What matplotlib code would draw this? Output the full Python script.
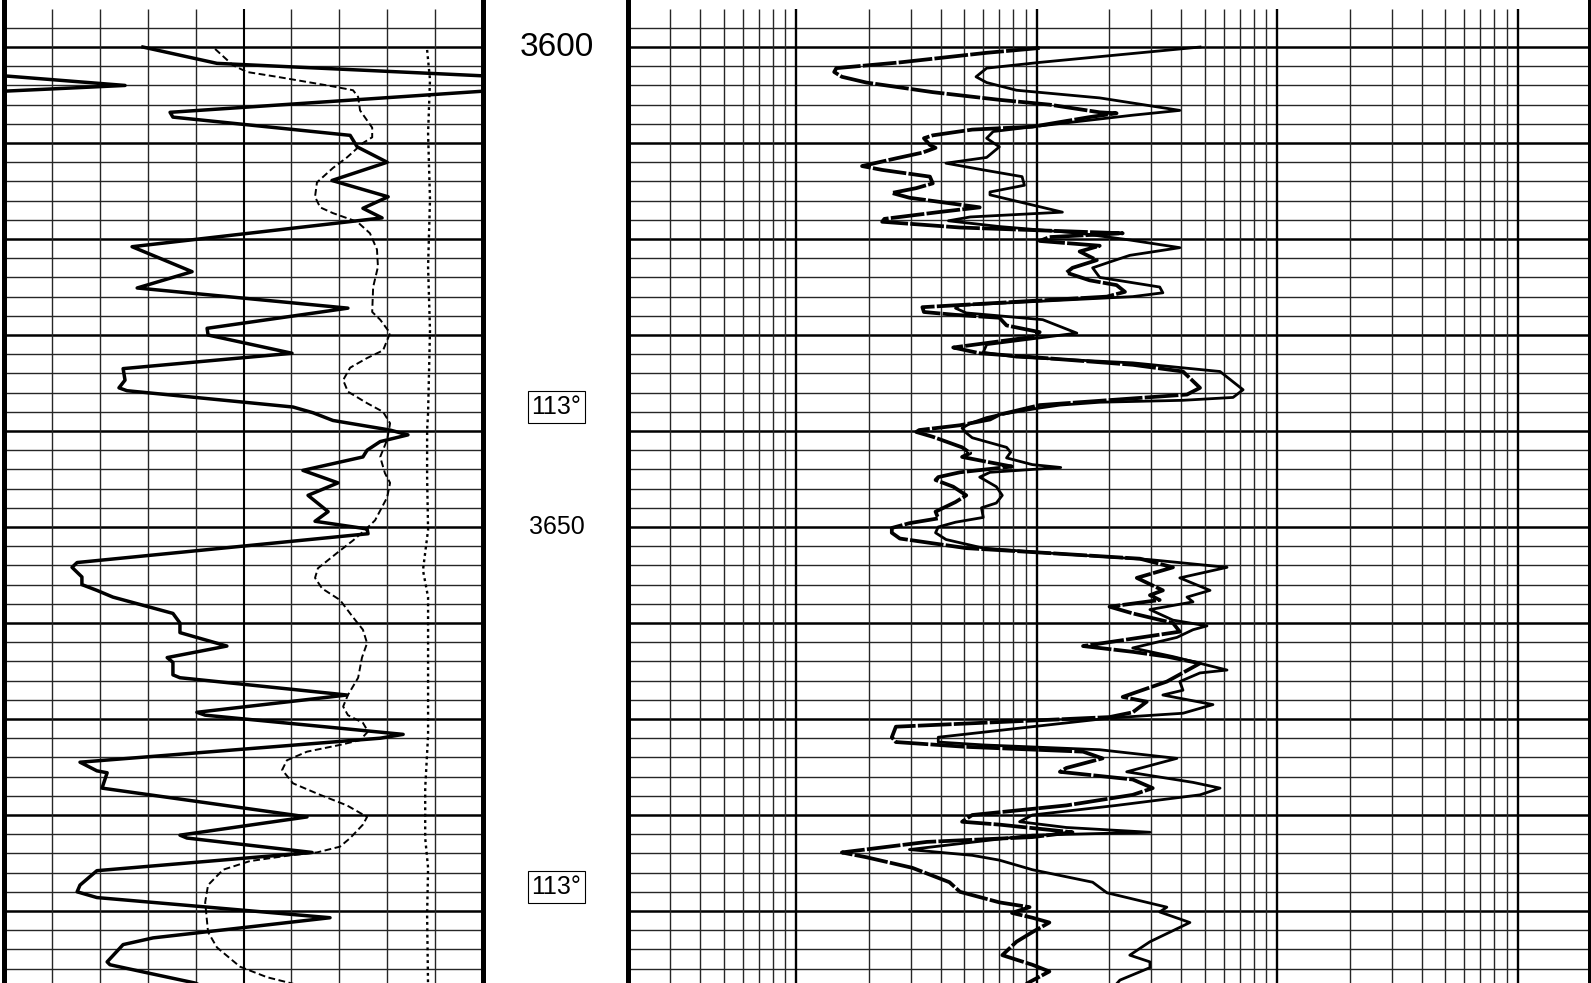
import numpy as np
import matplotlib
matplotlib.use("Agg")
import matplotlib.pyplot as plt

plt.rcParams['font.family'] = ['Liberation Sans', 'DejaVu Sans']

# left track, scale 0-150 (values above 150 wrap back in from the left)
gr_depth = [3600.0, 3601.7, 3603.0, 3604.0, 3604.6, 3606.8, 3607.3, 3609.2, 3610.4, 3612.0,
            3613.9, 3615.6, 3616.8, 3617.8, 3620.8, 3623.4, 3625.1, 3627.2, 3629.3, 3630.0,
            3631.9, 3633.5, 3634.7, 3635.5, 3635.8, 3637.5, 3638.1, 3638.9, 3639.9, 3640.4,
            3641.1, 3642.0, 3642.7, 3644.1, 3645.4, 3646.7, 3648.4, 3649.4, 3650.2, 3650.7,
            3653.7, 3654.2, 3655.2, 3656.0, 3656.6, 3657.3, 3659.0, 3660.0, 3661.0, 3662.4,
            3663.6, 3664.1, 3665.4, 3665.7, 3667.5, 3669.3, 3669.6, 3671.6, 3672.0, 3674.5,
            3675.4, 3675.6, 3677.2, 3680.2, 3682.1, 3682.4, 3683.9, 3685.8, 3687.3, 3688.0,
            3688.6, 3690.7, 3692.8, 3693.5, 3695.3, 3695.6, 3696.5, 3697.5, 3698.0]
gr = [43.5, 66.7, 150.0, 187.9, 150.0, 52.0, 52.9, 108.4, 110.6, 120.0,
      102.7, 120.3, 112.4, 118.4, 40.1, 58.9, 41.7, 107.7, 63.6, 63.9,
      90.2, 37.3, 37.9, 36.0, 38.5, 90.5, 96.8, 103.0, 120.9, 126.5,
      117.8, 113.7, 112.4, 93.6, 104.6, 95.2, 101.5, 97.4, 113.7, 114.0,
      22.9, 21.3, 24.4, 24.4, 29.1, 34.1, 52.9, 55.1, 55.1, 69.8,
      51.1, 52.9, 52.9, 55.1, 107.4, 60.4, 63.0, 125.0, 117.8, 23.8,
      29.1, 32.3, 30.7, 94.9, 55.1, 57.3, 96.5, 29.1, 23.8, 22.9,
      29.1, 102.1, 46.7, 37.3, 32.3, 33.2, 45.7, 59.8, 63.0]

cal_depth = [3600.2, 3601.9, 3602.6, 3603.1, 3604.1, 3604.5, 3605.2, 3606.6, 3608.4, 3609.4,
             3610.0, 3611.5, 3612.6, 3614.1, 3615.6, 3616.7, 3617.3, 3618.2, 3619.4, 3621.1,
             3622.9, 3625.0, 3627.6, 3628.4, 3629.8, 3631.6, 3632.4, 3633.4, 3634.7, 3635.9,
             3637.1, 3638.0, 3639.2, 3640.9, 3642.7, 3644.4, 3645.4, 3646.9, 3649.3, 3650.3,
             3651.4, 3652.7, 3654.3, 3655.3, 3656.4, 3657.6, 3659.4, 3660.7, 3662.1, 3663.6,
             3665.7, 3667.5, 3668.7, 3669.6, 3670.4, 3671.3, 3672.2, 3672.7, 3673.4, 3674.3,
             3675.3, 3676.7, 3677.9, 3679.0, 3680.2, 3681.0, 3682.4, 3683.3, 3683.9, 3684.2,
             3684.8, 3685.7, 3687.3, 3689.1, 3692.2, 3693.8, 3695.8, 3696.9, 3697.5, 3698.0]
cal = [66.1, 71.7, 76.1, 85.5, 103.0, 109.3, 110.9, 111.5, 115.3, 115.3,
       112.4, 107.4, 103.0, 98.0, 97.4, 99.0, 103.0, 110.6, 114.6, 116.8,
       117.1, 115.6, 115.3, 117.8, 120.9, 118.7, 113.7, 108.4, 106.2, 107.7,
       113.7, 118.7, 120.9, 120.0, 117.8, 119.3, 120.9, 120.0, 116.2, 113.1,
       109.3, 104.3, 98.3, 97.4, 99.6, 105.2, 109.3, 112.4, 113.7, 112.1,
       110.9, 107.7, 106.2, 107.7, 112.4, 114.0, 111.5, 105.2, 94.9, 88.6,
       87.1, 90.5, 99.0, 107.4, 113.7, 112.4, 108.4, 105.2, 98.0, 89.6,
       77.0, 68.6, 63.9, 63.0, 63.9, 66.7, 73.9, 82.4, 89.6, 95.0]

bit_depth = [3600.3, 3603.4, 3609.0, 3615.9, 3622.9, 3629.5, 3638.1, 3639.9, 3644.8, 3650.3,
             3654.5, 3657.3, 3663.6, 3671.7, 3677.2, 3682.4, 3685.5, 3690.4, 3698.0]
bit = [132.5, 133.4, 132.8, 133.4, 132.8, 133.4, 132.8, 132.5, 132.5, 132.8,
       131.2, 132.8, 132.8, 132.8, 131.9, 131.9, 132.8, 132.5, 132.8]

# right track, log scale 0.2-2000
res_a_depth = [3600.1, 3600.6, 3601.6, 3602.2, 3602.6, 3603.1, 3603.7, 3604.7, 3605.5, 3606.0,
               3606.8, 3606.9, 3607.3, 3608.3, 3608.6, 3609.2, 3609.5, 3610.2, 3610.5, 3611.0,
               3611.6, 3612.4, 3612.8, 3613.5, 3614.2, 3614.7, 3615.2, 3615.7, 3616.7, 3617.2,
               3617.9, 3618.2, 3618.8, 3619.4, 3619.8, 3620.2, 3620.7, 3621.3, 3622.2, 3623.0,
               3623.5, 3624.3, 3624.8, 3625.5, 3626.0, 3627.1, 3627.6, 3627.9, 3628.2, 3629.0,
               3629.7, 3630.2, 3631.3, 3631.9, 3632.3, 3633.1, 3633.8, 3635.5, 3636.2, 3637.3,
               3637.8, 3638.3, 3638.8, 3639.4, 3639.9, 3640.1, 3640.6, 3641.7, 3642.3, 3642.7,
               3643.2, 3643.7, 3644.3, 3644.8, 3645.1, 3645.8, 3646.7, 3647.4, 3648.4, 3649.1,
               3649.6, 3650.1, 3650.6, 3651.2, 3652.2, 3652.7, 3653.3, 3654.2, 3655.3, 3656.6,
               3657.1, 3657.6, 3658.3, 3659.0, 3660.0, 3660.9, 3662.4, 3663.0, 3663.5, 3664.2,
               3666.1, 3667.7, 3668.2, 3669.3, 3669.8, 3670.8, 3671.9, 3672.4, 3672.9, 3673.4,
               3674.1, 3675.1, 3675.5, 3676.3, 3677.2, 3677.9, 3679.0, 3680.0, 3680.7, 3681.0,
               3681.8, 3682.3, 3682.8, 3683.9, 3684.4, 3685.5, 3687.0, 3688.0, 3689.1, 3689.6,
               3690.2, 3690.7, 3691.2, 3692.2, 3693.2, 3694.6, 3695.6, 3696.3, 3697.4, 3698.0]
res_a = [10.3, 6.2, 2.7, 1.47, 1.44, 1.55, 1.96, 3.7, 7.0, 11.3,
         18.3, 21.5, 16.6, 9.6, 5.4, 3.7, 3.4, 3.6, 3.8, 3.35,
         2.6, 1.88, 2.28, 3.6, 3.7, 3.16, 2.5, 2.96, 5.8, 3.9,
         2.33, 2.28, 4.8, 22.8, 11.3, 10.3, 18.3, 15.1, 17.8, 14.1,
         13.3, 16.6, 21.5, 23.3, 19.6, 3.35, 3.4, 4.6, 7.0, 7.5,
         10.3, 9.6, 4.5, 5.8, 9.6, 25.1, 40.6, 47.8, 42.2, 10.3,
         8.5, 7.0, 6.4, 4.8, 3.25, 3.16, 3.7, 4.9, 5.3, 4.9,
         6.2, 7.9, 4.8, 3.9, 3.8, 4.5, 5.1, 4.6, 3.8, 3.9,
         2.96, 2.5, 2.5, 2.7, 5.1, 11.0, 26.9, 36.9, 26.1, 33.5,
         29.6, 32.5, 20.1, 25.1, 36.9, 39.4, 15.6, 25.1, 34.8, 47.8,
         34.8, 22.8, 28.7, 25.1, 20.1, 2.6, 2.5, 2.6, 5.1, 15.6,
         18.8, 13.3, 12.5, 25.1, 30.4, 25.1, 13.3, 5.4, 4.9, 7.0,
         14.1, 9.6, 3.5, 1.55, 1.96, 3.04, 4.34, 4.8, 7.0, 9.35,
         7.9, 9.6, 11.3, 9.6, 8.25, 7.2, 9.6, 11.3, 9.35, 8.5]

res_b_depth = [3600.0, 3601.6, 3602.2, 3603.1, 3603.7, 3604.5, 3605.3, 3606.6, 3607.1, 3608.1,
               3608.8, 3609.5, 3610.4, 3611.5, 3612.1, 3612.8, 3613.5, 3614.4, 3615.1, 3615.4,
               3617.2, 3617.7, 3618.1, 3618.7, 3619.4, 3620.1, 3620.9, 3621.7, 3622.4, 3623.0,
               3624.0, 3625.0, 3625.6, 3626.0, 3626.9, 3627.2, 3627.7, 3628.4, 3629.8, 3631.0,
               3631.8, 3632.3, 3632.9, 3633.8, 3635.7, 3636.5, 3636.8, 3637.0, 3637.3, 3637.6,
               3638.3, 3638.6, 3639.2, 3639.7, 3640.2, 3640.7, 3641.7, 3642.2, 3642.8, 3643.5,
               3643.8, 3644.3, 3644.8, 3645.8, 3646.7, 3647.5, 3648.0, 3649.0, 3649.5, 3650.0,
               3650.6, 3651.3, 3652.2, 3652.7, 3653.4, 3654.2, 3655.3, 3656.6, 3657.3, 3657.8,
               3658.6, 3659.7, 3660.3, 3660.7, 3661.5, 3662.6, 3663.5, 3664.9, 3665.2, 3666.1,
               3667.0, 3667.5, 3668.5, 3669.4, 3669.9, 3671.9, 3672.4, 3672.7, 3673.2, 3674.1,
               3675.5, 3676.6, 3677.2, 3677.9, 3679.0, 3680.0, 3680.7, 3681.3, 3681.8, 3682.1,
               3683.6, 3684.2, 3684.7, 3685.7, 3687.0, 3688.1, 3689.6, 3690.1, 3691.2, 3693.2,
               3694.6, 3695.3, 3695.9, 3697.2, 3698.0]
res_b = [47.8, 10.3, 6.2, 5.6, 6.2, 8.25, 18.3, 39.4, 25.1, 11.3,
         6.6, 6.2, 7.0, 6.2, 4.2, 6.0, 8.7, 8.9, 6.4, 6.4,
         12.8, 5.3, 4.3, 7.0, 15.1, 24.4, 39.4, 24.4, 20.1, 17.1,
         18.3, 32.5, 33.5, 25.1, 4.8, 4.6, 5.1, 10.6, 14.7, 6.2,
         6.0, 8.25, 25.1, 57.9, 72.2, 65.6, 40.6, 18.3, 12.5, 10.3,
         7.0, 6.2, 5.3, 4.9, 5.1, 5.4, 7.5, 7.8, 7.5, 9.6,
         12.6, 6.4, 5.8, 6.8, 7.2, 6.8, 5.9, 6.0, 4.6, 3.9,
         3.8, 4.2, 6.0, 11.0, 29.6, 61.9, 39.4, 52.6, 42.2, 44.7,
         29.6, 36.9, 51.1, 44.7, 38.3, 25.1, 36.9, 61.9, 47.8, 39.4,
         40.6, 33.5, 54.1, 40.6, 20.1, 3.9, 3.9, 6.0, 18.3, 38.3,
         23.7, 44.7, 57.9, 47.8, 21.5, 9.6, 8.5, 13.3, 29.6, 9.6,
         2.96, 5.4, 7.0, 9.6, 17.1, 19.6, 34.8, 32.5, 43.4, 29.6,
         24.4, 29.6, 29.6, 22.2, 20.8]

depth_labels = [(3600, '3600', 24), (3650, '3650', 18)]
temp_depths = [3637.5, 3687.5]
temp_text = '113°'

top_depth, base_depth, grid_top = 3595.1, 3697.5, 3596.0
gr_min, gr_max = 0, 150
res_min, res_max = 0.2, 2000

W = 1591.0
fig = plt.figure(figsize=(15.91, 9.83), dpi=100)
ax_gr = fig.add_axes([4 / W, 0, 479 / W, 1])
ax_dep = fig.add_axes([485 / W, 0, 143 / W, 1])
ax_res = fig.add_axes([628 / W, 0, 962 / W, 1])

thin_col, thin_lw = '0.15', 1.0


def depth_lines(ax):
    for d in range(3598, 3698, 2):
        if d % 10 == 0:
            ax.axhline(d, color='black', lw=1.8, zorder=1)
        else:
            ax.axhline(d, color=thin_col, lw=thin_lw, zorder=1)


def track_frame(ax):
    ax.set_ylim(base_depth, top_depth)
    ax.set_xticks([])
    ax.set_yticks([])
    ax.minorticks_off()
    for s in ['top', 'bottom']:
        ax.spines[s].set_visible(False)
    for s in ['left', 'right']:
        ax.spines[s].set_linewidth(3.6)
        ax.spines[s].set_zorder(5)


# left track
ax_gr.set_xlim(gr_min, gr_max)
track_frame(ax_gr)
depth_lines(ax_gr)
for x in range(15, 150, 15):
    bold = x == 75
    ax_gr.vlines(x, grid_top, base_depth, color='black' if bold else thin_col,
                 lw=1.5 if bold else thin_lw, zorder=1)
ax_gr.plot(gr, gr_depth, color='black', lw=2.5, zorder=3, solid_joinstyle='round')
ax_gr.plot(np.array(gr) - (gr_max - gr_min), gr_depth, color='black', lw=2.5, zorder=3)
ax_gr.plot(cal, cal_depth, color='black', lw=1.4, ls=(0, (3.5, 1.8)), zorder=3)
ax_gr.plot(bit, bit_depth, color='black', lw=1.7, ls=(0, (1.2, 1.5)), zorder=3)

# depth track
ax_dep.set_xlim(0, 1)
ax_dep.set_ylim(base_depth, top_depth)
ax_dep.axis('off')
for d, txt, fs in depth_labels:
    ax_dep.text(0.5, d, txt, fontsize=fs, ha='center', va='center')
for d in temp_depths:
    ax_dep.text(0.5, d, temp_text, fontsize=18, ha='center', va='center',
                bbox=dict(boxstyle='square,pad=0.15', fc='white', ec='black', lw=0.8))

# right track
ax_res.set_xscale('log')
ax_res.set_xlim(res_min, res_max)
track_frame(ax_res)
depth_lines(ax_res)
for n in range(-1, 4):
    for k in range(1, 10):
        x = k * 10.0 ** n
        if x <= res_min * 1.01 or x >= res_max * 0.99:
            continue
        bold = k == 1
        ax_res.vlines(x, grid_top, base_depth, color='black' if bold else thin_col,
                      lw=1.7 if bold else thin_lw, zorder=1)
ax_res.plot(res_b, res_b_depth, color='black', lw=2.0, zorder=3, solid_joinstyle='round')
ax_res.plot(res_a, res_a_depth, color='black', lw=2.7, ls=(0, (9, 0.6)), zorder=4)

fig.savefig('out.png', dpi=100, facecolor='white')
